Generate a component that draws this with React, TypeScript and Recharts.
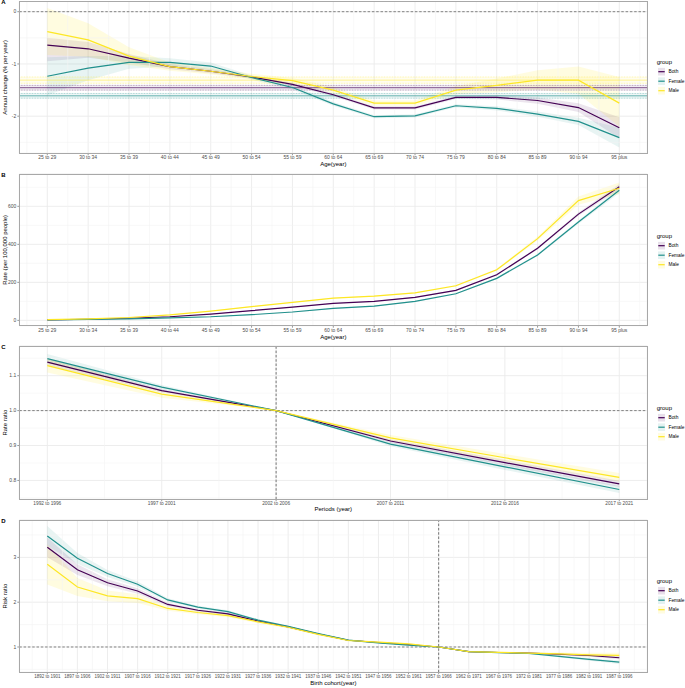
import React from 'react';
import {
  ComposedChart,
  Line,
  Area,
  XAxis,
  YAxis,
  CartesianGrid,
  ReferenceLine,
  ReferenceArea,
} from 'recharts';

const BOTH = '#440154';
const FEMALE = '#21908C';
const MALE = '#FDE725';
const FONT = '"Liberation Sans", Arial, Helvetica, sans-serif';

// ---------- Panel A: local drift (annual change, % per year) ----------
const ageLabels = ['25 to 29', '30 to 34', '35 to 39', '40 to 44', '45 to 49', '50 to 54', '55 to 59', '60 to 64', '65 to 69', '70 to 74', '75 to 79', '80 to 84', '85 to 89', '90 to 94', '95 plus'];
const aBoth = [-0.64, -0.71, -0.89, -1.05, -1.14, -1.25, -1.39, -1.59, -1.84, -1.84, -1.64, -1.64, -1.7, -1.835, -2.22];
const aBothLo = [-0.95, -0.88, -0.97, -1.1, -1.18, -1.28, -1.42, -1.62, -1.87, -1.87, -1.67, -1.68, -1.76, -1.92, -2.42];
const aBothHi = [-0.5, -0.58, -0.81, -1.0, -1.1, -1.22, -1.36, -1.56, -1.81, -1.81, -1.61, -1.6, -1.64, -1.75, -2.02];
const aFemale = [-1.235, -1.08, -0.97, -0.97, -1.04, -1.26, -1.45, -1.765, -2.01, -1.995, -1.8, -1.85, -1.96, -2.1, -2.41];
const aFemaleLo = [-1.6, -1.31, -1.09, -1.05, -1.11, -1.3, -1.49, -1.8, -2.04, -2.025, -1.83, -1.89, -2.01, -2.17, -2.6];
const aFemaleHi = [-0.87, -0.85, -0.85, -0.89, -0.97, -1.22, -1.41, -1.73, -1.98, -1.965, -1.77, -1.81, -1.91, -2.03, -2.22];
const aMale = [-0.38, -0.54, -0.85, -1.05, -1.14, -1.24, -1.32, -1.5, -1.75, -1.75, -1.5, -1.41, -1.31, -1.31, -1.75];
const aMaleLo = [-0.83, -0.86, -1.02, -1.13, -1.2, -1.29, -1.37, -1.56, -1.8, -1.8, -1.58, -1.54, -1.5, -1.57, -2.2];
const aMaleHi = [0.07, -0.22, -0.68, -0.97, -1.08, -1.19, -1.27, -1.44, -1.7, -1.7, -1.42, -1.28, -1.12, -1.05, -1.25];
// net drift [estimate, lower, upper]
const driftBoth = [-1.455, -1.5, -1.41];
const driftFemale = [-1.61, -1.655, -1.565];
const driftMale = [-1.31, -1.37, -1.25];

// ---------- Panel B: longitudinal age curve (rate per 100,000) ----------
const bBoth = [3, 6, 11, 19, 33, 51, 70, 89, 100, 121, 158, 240, 379, 559, 703];
const bBothHalf = [0.5, 0.5, 1, 1, 1, 1.5, 2, 2, 2, 3, 3, 5, 6, 9, 14];
const bFemale = [2, 5, 8, 13, 19, 30, 44, 63, 75, 100, 140, 221, 344, 517, 684];
const bFemaleHalf = [0.5, 0.5, 1, 1, 1, 1.5, 2, 2, 2, 3, 3, 5, 6, 9, 14];
const bMale = [4, 8, 15, 29, 49, 72, 95, 117, 128, 145, 182, 266, 430, 630, 695];
const bMaleHalf = [0.5, 1, 1, 1, 1.5, 2, 2, 2.5, 3, 3, 4, 6, 10, 22, 30];

// ---------- Panel C: period rate ratio ----------
const periodLabels = ['1992 to 1996', '1997 to 2001', '2002 to 2006', '2007 to 2011', '2012 to 2016', '2017 to 2021'];
const cBoth = [1.139, 1.057, 1.0, 0.913, 0.851, 0.79];
const cBothHalf = [0.01, 0.005, 0, 0.005, 0.008, 0.009];
const cFemale = [1.149, 1.067, 1.0, 0.904, 0.839, 0.774];
const cFemaleHalf = [0.013, 0.006, 0, 0.006, 0.009, 0.01];
const cMale = [1.129, 1.047, 1.0, 0.922, 0.865, 0.809];
const cMaleHalf = [0.02, 0.01, 0, 0.008, 0.011, 0.012];

// ---------- Panel D: cohort risk ratio ----------
const cohortLabels = ['1892 to 1901', '1897 to 1906', '1902 to 1911', '1907 to 1916', '1912 to 1921', '1917 to 1926', '1922 to 1931', '1927 to 1936', '1932 to 1941', '1937 to 1946', '1942 to 1951', '1947 to 1956', '1952 to 1961', '1957 to 1966', '1962 to 1971', '1967 to 1976', '1972 to 1981', '1977 to 1986', '1982 to 1991', '1987 to 1996'];
const dBoth = [3.225, 2.726, 2.435, 2.25, 1.95, 1.82, 1.74, 1.58, 1.45, 1.29, 1.15, 1.1, 1.055, 1.0, 0.895, 0.877, 0.862, 0.838, 0.81, 0.76];
const dBothHalf = [0.22, 0.12, 0.08, 0.06, 0.04, 0.03, 0.03, 0.02, 0.02, 0.015, 0.012, 0.012, 0.012, 0, 0.01, 0.012, 0.015, 0.02, 0.03, 0.035];
const dFemale = [3.48, 2.98, 2.64, 2.4, 2.05, 1.89, 1.79, 1.6, 1.46, 1.3, 1.155, 1.09, 1.04, 1.0, 0.895, 0.875, 0.855, 0.79, 0.725, 0.66];
const dFemaleHalf = [0.22, 0.12, 0.08, 0.06, 0.04, 0.03, 0.03, 0.025, 0.02, 0.02, 0.015, 0.015, 0.015, 0, 0.01, 0.012, 0.015, 0.02, 0.03, 0.04];
const dMale = [2.846, 2.34, 2.14, 2.08, 1.86, 1.77, 1.7, 1.56, 1.44, 1.28, 1.145, 1.11, 1.07, 1.0, 0.895, 0.88, 0.865, 0.845, 0.825, 0.815];
const dMaleHalf = [0.45, 0.2, 0.12, 0.1, 0.05, 0.04, 0.035, 0.03, 0.025, 0.02, 0.02, 0.02, 0.02, 0, 0.012, 0.015, 0.02, 0.03, 0.045, 0.055];

const groupNames = ['Both', 'Female', 'Male'];
const groupColors = [BOTH, FEMALE, MALE];

type Row = Record<string, any>;

function rowsFromBounds(labels: string[], vals: number[][], los: number[][], his: number[][]): Row[] {
  return labels.map((label, i) => ({
    x: i,
    label,
    both: vals[0][i],
    female: vals[1][i],
    male: vals[2][i],
    bothBand: [los[0][i], his[0][i]],
    femaleBand: [los[1][i], his[1][i]],
    maleBand: [los[2][i], his[2][i]],
  }));
}

function rowsFromHalf(labels: string[], vals: number[][], halves: number[][]): Row[] {
  return rowsFromBounds(
    labels,
    vals,
    vals.map((v, g) => v.map((y, i) => y - halves[g][i])),
    vals.map((v, g) => v.map((y, i) => y + halves[g][i]))
  );
}

const dataA = rowsFromBounds(ageLabels, [aBoth, aFemale, aMale], [aBothLo, aFemaleLo, aMaleLo], [aBothHi, aFemaleHi, aMaleHi]);
const dataB = rowsFromHalf(ageLabels, [bBoth, bFemale, bMale], [bBothHalf, bFemaleHalf, bMaleHalf]);
const dataC = rowsFromHalf(periodLabels, [cBoth, cFemale, cMale], [cBothHalf, cFemaleHalf, cMaleHalf]);
const dataD = rowsFromHalf(cohortLabels, [dBoth, dFemale, dMale], [dBothHalf, dFemaleHalf, dMaleHalf]);

const PLOT_LEFT = 19.3;
const PLOT_RIGHT = 647.3;
const CHART_W = 685;

type PanelProps = {
  letter: string;
  top: number;
  mt: number;
  plotH: number;
  labels: string[];
  data: Row[];
  xPad: number;
  xTickFont: number;
  yDomain: [number, number];
  yTicks: number[];
  yFmt: (v: number) => string;
  minorY: number[];
  xTitle: string;
  yTitle: string;
  titleBaseline: number;
  vDash?: number;
  hDash?: number;
  drift?: boolean;
  legendTop: number;
};

const XH = 15;

function Panel(p: PanelProps) {
  const n = p.labels.length;
  const xDomain: [number, number] = [-p.xPad, n - 1 + p.xPad];
  const xTicks = p.labels.map((_, i) => i);
  const minorX: number[] = [];
  for (let i = -1; i < n; i++) minorX.push(i + 0.5);
  const H = p.mt + p.plotH + XH;
  const titleOffset = p.top + H - p.titleBaseline;
  const xTickStyle = { fontSize: p.xTickFont, fill: '#4d4d4d', fontFamily: FONT };
  const yTickStyle = { fontSize: 5, fill: '#4d4d4d', fontFamily: FONT };

  const children: React.ReactNode[] = [];
  children.push(<CartesianGrid key="grid" stroke="#ebebeb" strokeWidth={0.9} />);
  minorX.forEach((v) =>
    children.push(<ReferenceLine key={'mx' + v} x={v} stroke="#f3f3f3" strokeWidth={0.6} />)
  );
  p.minorY.forEach((v) =>
    children.push(<ReferenceLine key={'my' + v} y={v} stroke="#f3f3f3" strokeWidth={0.6} />)
  );
  if (p.hDash !== undefined) {
    children.push(
      <ReferenceLine key="hdash" y={p.hDash} stroke="#666" strokeWidth={0.8} strokeDasharray="2.5 1.8" />
    );
  }
  if (p.vDash !== undefined) {
    children.push(
      <ReferenceLine key="vdash" x={p.vDash} stroke="#555" strokeWidth={0.8} strokeDasharray="2.5 1.8" />
    );
  }
  if (p.drift) {
    const drifts = [driftBoth, driftFemale, driftMale];
    drifts.forEach((d, g) => {
      children.push(
        <ReferenceArea key={'da' + g} y1={d[1]} y2={d[2]} fill={groupColors[g]} fillOpacity={0.07} stroke="none" />
      );
      children.push(
        <ReferenceLine key={'dl' + g} y={d[0]} stroke={groupColors[g]} strokeOpacity={g === 2 ? 0.6 : 0.85} strokeWidth={0.8} />
      );
      children.push(
        <ReferenceLine key={'dlo' + g} y={d[1]} stroke={groupColors[g]} strokeOpacity={0.7} strokeWidth={0.6} strokeDasharray="0.8 0.8" />
      );
      children.push(
        <ReferenceLine key={'dhi' + g} y={d[2]} stroke={groupColors[g]} strokeOpacity={0.7} strokeWidth={0.6} strokeDasharray="0.8 0.8" />
      );
    });
  }
  ['both', 'female', 'male'].forEach((k, g) =>
    children.push(
      <Area
        key={'band' + k}
        type="linear"
        dataKey={k + 'Band'}
        stroke="none"
        fill={groupColors[g]}
        fillOpacity={g === 2 ? 0.14 : 0.1}
        isAnimationActive={false}
        activeDot={false}
        dot={false}
      />
    )
  );
  ['both', 'female', 'male'].forEach((k, g) =>
    children.push(
      <Line
        key={'line' + k}
        type="linear"
        dataKey={k}
        stroke={groupColors[g]}
        strokeWidth={1.2}
        dot={false}
        activeDot={false}
        isAnimationActive={false}
      />
    )
  );

  return (
    <div style={{ position: 'absolute', left: 0, top: p.top, width: CHART_W, height: H }}>
      <ComposedChart
        width={CHART_W}
        height={H}
        data={p.data}
        margin={{ top: p.mt, right: CHART_W - PLOT_RIGHT, bottom: 0, left: 0 }}
      >
        <XAxis
          type="number"
          dataKey="x"
          domain={xDomain}
          ticks={xTicks}
          interval={0}
          allowDataOverflow
          tickFormatter={(v: number) => p.labels[v] ?? ''}
          tick={xTickStyle}
          tickSize={2}
          tickMargin={0.6}
          tickLine={{ stroke: '#333', strokeWidth: 0.5 }}
          axisLine={false}
          height={XH}
          label={{ value: p.xTitle, position: 'insideBottom', offset: titleOffset, style: { fontSize: 6, fill: '#000', fontFamily: FONT } }}
        />
        <YAxis
          type="number"
          domain={p.yDomain}
          ticks={p.yTicks}
          interval={0}
          allowDataOverflow
          tickFormatter={p.yFmt}
          tick={yTickStyle}
          tickSize={2}
          tickMargin={1}
          tickLine={{ stroke: '#333', strokeWidth: 0.5 }}
          axisLine={false}
          width={PLOT_LEFT}
          label={{ value: p.yTitle, angle: -90, position: 'insideLeft', offset: 4.4, style: { fontSize: 6, fill: '#000', fontFamily: FONT, textAnchor: 'middle' } }}
        />
        {children}
      </ComposedChart>
      <div
        style={{
          position: 'absolute',
          left: PLOT_LEFT - 0.5,
          top: p.mt - 0.5,
          width: PLOT_RIGHT - PLOT_LEFT + 1,
          height: p.plotH + 1,
          border: '1px solid #a8a8a8',
          boxSizing: 'border-box',
          pointerEvents: 'none',
        }}
      />
      <div
        style={{
          position: 'absolute',
          left: 1.2,
          top: p.mt - 2.2,
          fontSize: 6,
          fontWeight: 'bold',
          fontFamily: FONT,
          lineHeight: '6px',
          color: '#000',
        }}
      >
        {p.letter}
      </div>
      <svg
        width={36}
        height={40}
        style={{ position: 'absolute', left: 649, top: p.legendTop - p.top - 4 }}
      >
        <text x={7.7} y={6.1} fontSize={6} fontFamily={FONT} fill="#000">
          group
        </text>
        {groupNames.map((name, g) => {
          const cy = 13.7 + g * 9.5;
          return (
            <g key={name}>
              <rect x={9} y={cy - 3.8} width={7} height={7.6} fill={groupColors[g]} fillOpacity={g === 2 ? 0.14 : 0.12} />
              <line x1={9.3} x2={15.7} y1={cy} y2={cy} stroke={groupColors[g]} strokeWidth={1.2} />
              <text x={19.5} y={cy + 1.7} fontSize={4.8} fontFamily={FONT} fill="#000">
                {name}
              </text>
            </g>
          );
        })}
      </svg>
    </div>
  );
}

export default function App() {
  return (
    <div style={{ position: 'relative', width: 685, height: 688, background: '#fff', fontFamily: FONT, overflow: 'hidden' }}>
      <style>{'body{margin:0;}'}</style>
      <Panel
        letter="A"
        top={0}
        mt={1.5}
        plotH={151.8}
        labels={ageLabels}
        data={dataA}
        xPad={0.685}
        xTickFont={5}
        yDomain={[-2.71, 0.195]}
        yTicks={[-2, -1, 0]}
        yFmt={(v) => String(v)}
        minorY={[-2.5, -1.5, -0.5]}
        xTitle="Age(year)"
        yTitle="Annual change (% per year)"
        titleBaseline={166.2}
        hDash={0}
        drift
        legendTop={62.3}
      />
      <Panel
        letter="B"
        top={170}
        mt={4}
        plotH={151.7}
        labels={ageLabels}
        data={dataB}
        xPad={0.685}
        xTickFont={5}
        yDomain={[-28, 770]}
        yTicks={[0, 200, 400, 600]}
        yFmt={(v) => String(v)}
        minorY={[100, 300, 500, 700]}
        xTitle="Age(year)"
        yTitle="Rate (per 100,000 people)"
        titleBaseline={339.3}
        legendTop={236}
      />
      <Panel
        letter="C"
        top={342}
        mt={4}
        plotH={153.3}
        labels={periodLabels}
        data={dataC}
        xPad={0.245}
        xTickFont={4.8}
        yDomain={[0.746, 1.185]}
        yTicks={[0.8, 0.9, 1.0, 1.1]}
        yFmt={(v) => v.toFixed(1)}
        minorY={[0.75, 0.85, 0.95, 1.05, 1.15]}
        xTitle="Periods (year)"
        yTitle="Rate ratio"
        titleBaseline={511}
        hDash={1}
        vDash={2}
        legendTop={408.3}
      />
      <Panel
        letter="D"
        top={516}
        mt={4}
        plotH={152.3}
        labels={cohortLabels}
        data={dataD}
        xPad={0.93}
        xTickFont={4.5}
        yDomain={[0.435, 3.835]}
        yTicks={[1, 2, 3]}
        yFmt={(v) => String(v)}
        minorY={[0.5, 1.5, 2.5, 3.5]}
        xTitle="Birth cohort(year)"
        yTitle="Risk ratio"
        titleBaseline={685.2}
        hDash={1}
        vDash={13}
        legendTop={581}
      />
    </div>
  );
}
